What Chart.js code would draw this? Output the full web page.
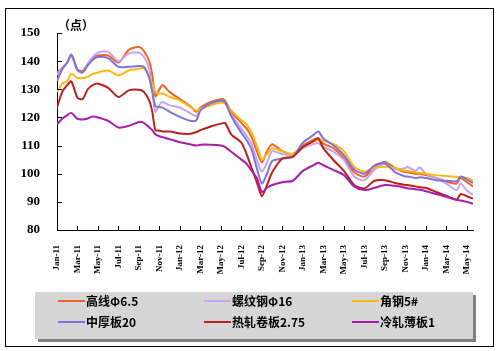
<!DOCTYPE html>
<html>
<head>
<meta charset="utf-8">
<script src="https://cdn.jsdelivr.net/npm/chart.js@4/dist/chart.umd.min.js"></script>
<style>
  html, body { margin: 0; padding: 0; background: #fff; }
</style>
</head>
<body>
<canvas id="steelChart" width="498" height="351"></canvas>
<script>
// months since Jan 2011
const months = [0, 0.5, 1, 1.4, 2, 2.5, 3, 3.5, 4, 5, 6, 7, 8, 8.5, 9, 9.3, 9.6, 10, 10.3, 11, 12, 13, 13.6, 14, 15, 16, 16.4, 17, 18, 18.5, 19, 19.5, 20, 20.5, 21, 22, 23, 24, 25, 25.5, 26, 27, 28, 29, 30, 31, 32, 33, 34, 34.2, 35, 35.4, 36, 37, 38, 39, 39.4, 40, 40.6];

const tickLabels = ['Jan-11', 'Mar-11', 'May-11', 'Jul-11', 'Sep-11', 'Nov-11',
  'Jan-12', 'Mar-12', 'May-12', 'Jul-12', 'Sep-12', 'Nov-12',
  'Jan-13', 'Mar-13', 'May-13', 'Jul-13', 'Sep-13', 'Nov-13',
  'Jan-14', 'Mar-14', 'May-14'];

const gaoxian = [136, 137.5, 139.5, 142.2, 137, 136.5, 139, 141, 142, 142, 139.5, 144, 145, 143.5, 140, 135, 127.5, 130, 131.5, 129, 126.5, 124, 122, 123.5, 125.5, 126.5, 126, 122, 118, 116, 113, 108, 104, 108, 110.5, 108, 107, 110, 112, 112.7, 110.7, 109, 105.5, 100.5, 99, 102.5, 104.2, 102, 100.5, 100.5, 100, 100, 99.5, 98.5, 97.2, 96.5, 98.5, 97, 95.5];
const luowengang = [135, 137.5, 139.5, 142, 136.5, 136, 139, 141.5, 143, 143.3, 140, 142.7, 143, 141.5, 137, 130, 122, 124.5, 125.5, 124.3, 123.5, 121.5, 120.5, 123, 124.5, 125.5, 125, 121, 116, 113.5, 110.5, 105, 100.7, 104, 108, 107, 106.5, 109, 110.5, 110.8, 109.5, 107.8, 104.8, 99, 97.7, 101.5, 103.5, 101.5, 102, 102.5, 101, 102.3, 100, 98.5, 96.5, 94.2, 96.5, 94, 92.5];
const jiaogang = [129, 132, 133, 135.6, 134, 134, 134.4, 135.5, 136, 136.7, 135, 136.7, 137.3, 137.5, 134.5, 132, 129, 128.5, 128.5, 127.3, 126, 123.7, 122.5, 123, 124.3, 125.3, 125, 122.5, 119, 117.5, 114.5, 110, 105, 107, 109, 108, 107, 109.5, 111.5, 111.8, 111.7, 110.5, 108, 102.5, 100.7, 102, 102.5, 102, 101, 101, 100.5, 100.3, 100, 99.5, 99.2, 98.9, 98.8, 98.5, 97.6];
const zhonghouban = [133, 137, 139.5, 142.3, 137, 136, 138.5, 140.5, 141.5, 141, 138, 138, 138.3, 138, 134, 129, 124, 123.7, 123.5, 122, 120.2, 118.8, 119, 122.5, 125, 126, 125.5, 120.5, 114.5, 112, 108.5, 102, 96.5, 100, 104.5, 105.4, 106, 111, 113.7, 115, 112.5, 110, 106.6, 101.5, 100, 103, 103.7, 100.5, 99, 99, 98.5, 98.7, 98.5, 97.7, 97.5, 97.3, 99, 98, 96.7];
const rezha = [123.5, 129, 131.5, 132.8, 127, 126.5, 130, 131.5, 132, 130.5, 127.3, 129.6, 129.8, 129, 126, 122, 115.5, 115.3, 115, 115, 114.3, 114.2, 114.8, 115.5, 116.8, 117.8, 118, 114, 111, 107, 102, 97, 92, 96, 100.5, 105.4, 106, 109.5, 111.5, 112.5, 109, 104.8, 101, 96, 94.8, 97.5, 97.7, 96.7, 96, 96, 95.5, 95.2, 95, 93.5, 92.2, 90.8, 92.8, 92, 91.2];
const lengzha = [117.5, 119.5, 120.8, 121.6, 119.5, 119.3, 119.6, 120.3, 120, 118.8, 116.4, 117, 118.4, 118, 116.5, 115.5, 114, 113.3, 113, 112.3, 111.2, 110.5, 110, 110.3, 110.3, 110, 109.5, 107.8, 105, 103.5, 101, 98.5, 93.5, 95, 96, 97, 97.5, 101, 103, 103.9, 103, 101.3, 99.5, 95.5, 94.2, 95, 96, 95.7, 95, 94.8, 94.5, 94.3, 93.8, 92.8, 91.8, 90.7, 90.5, 90, 89.3];

const seriesNames = ['高线Φ6.5', '螺纹钢Φ16', '角钢5#', '中厚板20', '热轧卷板2.75', '冷轧薄板1'];
const seriesValues = [gaoxian, luowengang, jiaogang, zhonghouban, rezha, lengzha];
const seriesColors = ['#F0642A', '#C9A3F2', '#FDB913', '#7F74D6', '#B8221C', '#AA1CAA'];

const framePlugin = {
    id: 'frame',
    beforeDraw(chart) {
        const ctx = chart.ctx;
        ctx.save();
        ctx.fillStyle = '#fff';
        ctx.fillRect(0, 0, chart.width, chart.height);
        ctx.restore();
    },
    afterDraw(chart) {
        const ctx = chart.ctx;
        const xs = chart.scales.x;
        const ys = chart.scales.y;
        const area = chart.chartArea;
        ctx.save();

        // outer frame
        ctx.strokeStyle = '#000';
        ctx.lineWidth = 1;
        ctx.strokeRect(5.5, 8.5, 488, 338);

        // inward tick marks
        ctx.beginPath();
        for (let v = 80; v <= 150; v += 10) {
            const y = Math.round(ys.getPixelForValue(v)) + 0.5;
            ctx.moveTo(area.left, y);
            ctx.lineTo(area.left + 5, y);
        }
        for (let m = 0; m <= 40; m += 2) {
            const x = Math.round(xs.getPixelForValue(m)) + 0.5;
            ctx.moveTo(x, area.bottom);
            ctx.lineTo(x, area.bottom - 4);
        }
        ctx.stroke();

        // unit
        ctx.fillStyle = '#000';
        ctx.font = 'bold 12px "Noto Sans CJK SC"';
        ctx.textBaseline = 'middle';
        ctx.fillText('（点）', 58, 25);

        // legend box with shadow
        ctx.fillStyle = '#808080';
        ctx.fillRect(38, 295, 438, 47);
        ctx.fillStyle = '#D6D6D6';
        ctx.fillRect(35, 292, 438, 47);

        const colX = [58, 204, 352];
        const rowY = [301, 322];
        ctx.font = 'bold 12px "Noto Sans CJK SC"';
        ctx.lineWidth = 2;
        seriesNames.forEach((name, i) => {
            const x = colX[i % 3];
            const y = rowY[Math.floor(i / 3)];
            ctx.strokeStyle = seriesColors[i];
            ctx.beginPath();
            ctx.moveTo(x, y);
            ctx.lineTo(x + 27, y);
            ctx.stroke();
            ctx.fillStyle = '#000';
            ctx.fillText(name, x + 28, y);
        });
        ctx.restore();
    }
};

const ctx = document.getElementById('steelChart').getContext('2d');
const steelChart = new Chart(ctx, {
    type: 'line',
    data: {
        datasets: seriesNames.map((name, i) => ({
            label: name,
            data: months.map((m, j) => ({ x: m, y: seriesValues[i][j] })),
            borderColor: seriesColors[i],
            backgroundColor: seriesColors[i],
            borderWidth: 2,
            pointRadius: 0,
            tension: 0.25,
            fill: false,
            order: 6 - i
        }))
    },
    options: {
        responsive: false,
        animation: false,
        devicePixelRatio: 1,
        layout: { padding: { top: 33, right: 25, left: 0, bottom: 0 } },
        plugins: {
            legend: { display: false },
            tooltip: { enabled: false }
        },
        scales: {
            x: {
                type: 'linear',
                min: 0,
                max: 40.6,
                grid: { display: false },
                border: { display: true, color: '#000', width: 1 },
                ticks: {
                    stepSize: 2,
                    includeBounds: false,
                    autoSkip: false,
                    minRotation: 90,
                    maxRotation: 90,
                    padding: 7,
                    color: '#000',
                    font: { family: '"Liberation Serif"', weight: 'bold', size: 9 },
                    callback: value => tickLabels[value / 2]
                },
                afterFit: scale => { scale.height = 121; }
            },
            y: {
                min: 80,
                max: 150,
                grid: { display: false },
                border: { display: true, color: '#000', width: 1 },
                ticks: {
                    stepSize: 10,
                    padding: 9,
                    color: '#000',
                    font: { family: '"Liberation Serif"', weight: 'bold', size: 13 }
                },
                afterFit: scale => { scale.width = 57; }
            }
        }
    },
    plugins: [framePlugin]
});
</script>
</body>
</html>
